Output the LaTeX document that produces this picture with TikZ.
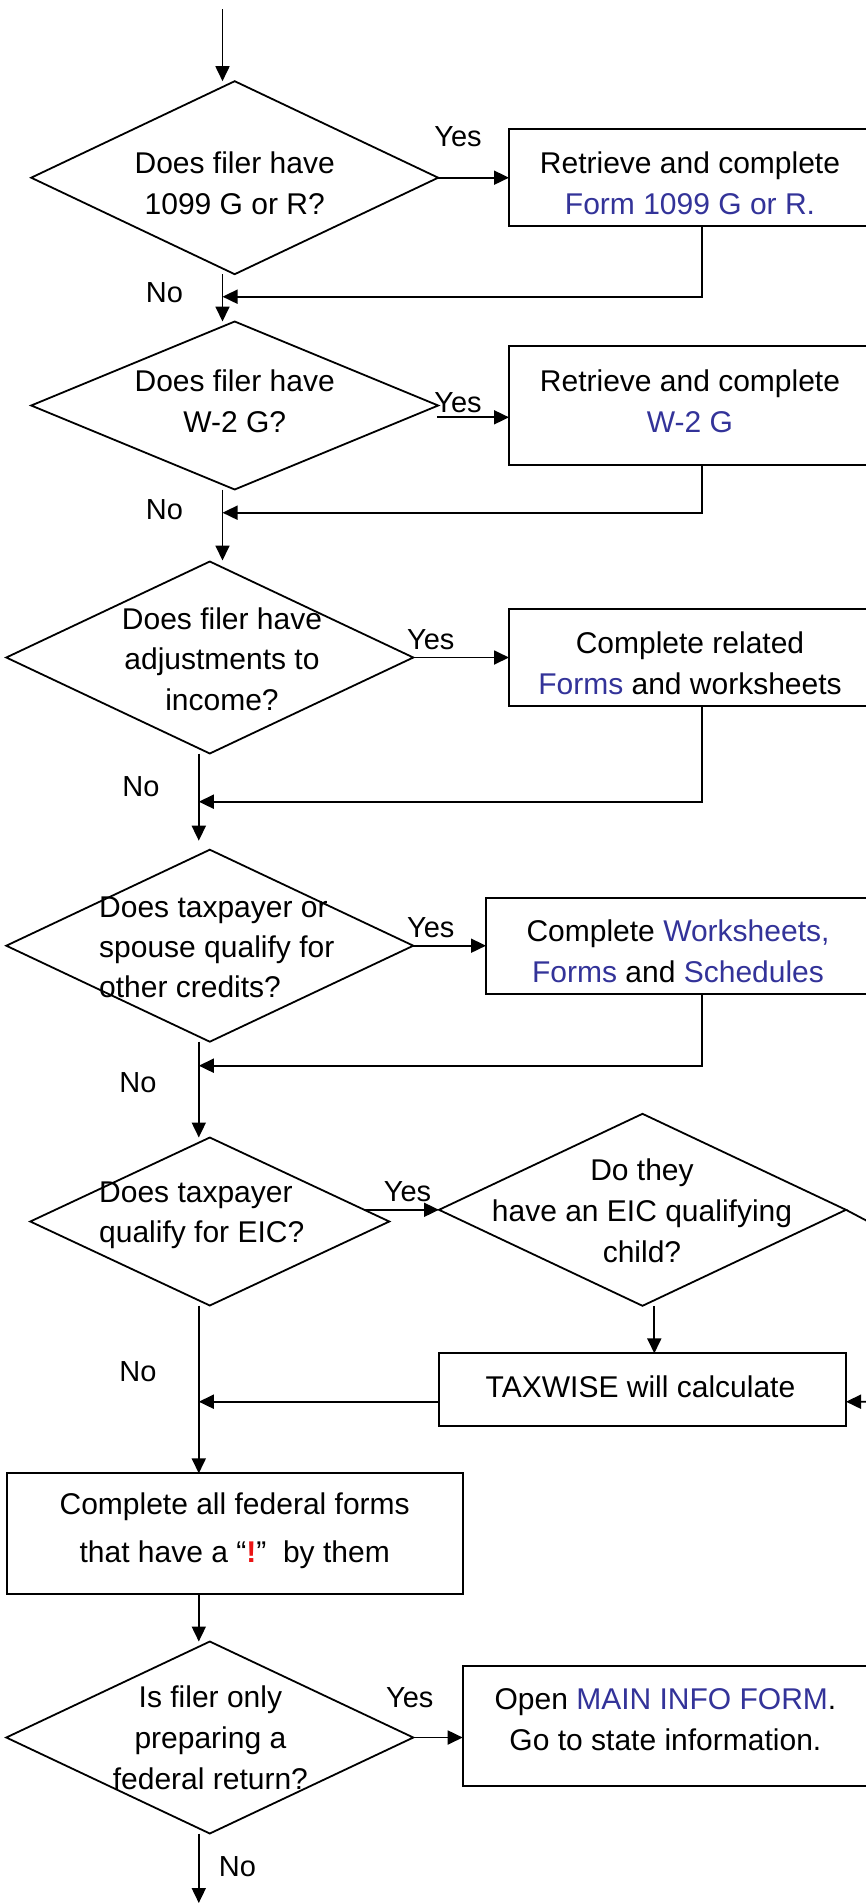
\documentclass[tikz,border=0pt]{standalone}
\usepackage{fontspec}
\setmainfont{Liberation Sans}
\usetikzlibrary{shapes.geometric,arrows.meta}
\definecolor{lnk}{RGB}{51,51,153}
\definecolor{bang}{RGB}{235,20,20}
\begin{document}
\begin{tikzpicture}[x=1pt,y=-1pt,
  line width=1.8pt,
  arr/.style={-{Triangle[length=15pt,width=14pt]}},
  dec/.style={draw,diamond,inner sep=0pt,outer sep=0pt,minimum width=#1},
  box/.style={draw,rectangle,inner sep=0pt,outer sep=0pt},
  txt/.style={font=\fontsize{30}{41}\selectfont,align=center,inner sep=0pt},
  lbl/.style={font=\fontsize{29}{35}\selectfont,inner sep=0pt}]
\useasboundingbox (0,0) rectangle (866,1904);
\clip (0,0) rectangle (866,1904);
\fill[white] (0,0) rectangle (866,1904);

% ---------- diamonds ----------
\node[dec=407pt,minimum height=193pt] (d1) at (234.7,177.7) {};
\node[dec=407pt,minimum height=168pt] (d2) at (234.7,405.5) {};
\node[dec=407pt,minimum height=192pt] (d3) at (209.8,657.5) {};
\node[dec=407pt,minimum height=192pt] (d4) at (209.8,945.7) {};
\node[dec=359pt,minimum height=168pt] (d5) at (209.8,1221.5) {};
\node[dec=407pt,minimum height=192pt] (d6) at (642.5,1209.8) {};
\node[dec=407pt,minimum height=192pt] (d7) at (209.8,1737.5) {};

% ---------- diamond texts ----------
\node[txt] (d1t) at (234.7,183) {Does filer have\\1099 G or R?};
\node[txt] (d2t) at (234.7,401) {Does filer have\\W-2 G?};
\node[txt,font=\fontsize{30}{40.5}\selectfont] (d3t) at (222,659) {Does filer have\\adjustments to\\income?};
\node[txt,align=left,anchor=west,font=\fontsize{30}{40}\selectfont] (d4t) at (98.3,947) {Does taxpayer or\\spouse qualify for\\other credits?};
\node[txt,align=left,anchor=west,font=\fontsize{30}{40}\selectfont] (d5t) at (98.3,1215) {Does taxpayer\\qualify for EIC?};
\node[txt,font=\fontsize{30}{41}\selectfont] (d6t) at (642,1211) {Do they\\have an EIC qualifying\\child?};
\node[txt,font=\fontsize{30}{41}\selectfont] (d7t) at (210.4,1738) {Is filer only\\preparing a\\federal return?};

% ---------- boxes ----------
\node[box,minimum width=363pt,minimum height=96.7pt] (b1) at (690.5,177.7) {};
\node[txt] (b1t) at (690,183) {Retrieve and complete\\\textcolor{lnk}{Form 1099 G or R.}};
\node[box,minimum width=363pt,minimum height=119.3pt] (b2) at (690.5,405.3) {};
\node[txt] (b2t) at (690,401) {Retrieve and complete\\\textcolor{lnk}{W-2 G}};
\node[box,minimum width=363pt,minimum height=96.4pt] (b3) at (690.5,657.5) {};
\node[txt] (b3t) at (690,663) {Complete related\\\textcolor{lnk}{Forms} and worksheets};
\node[box,minimum width=386pt,minimum height=96.3pt] (b4) at (679,945.8) {};
\node[txt] (b4t) at (678,951) {Complete \textcolor{lnk}{Worksheets,}\\\textcolor{lnk}{Forms} and \textcolor{lnk}{Schedules}};
\node[box,minimum width=407pt,minimum height=72.7pt] (tax) at (642.5,1389.7) {};
\node[txt] (taxt) at (640.5,1387) {TAXWISE will calculate};
\node[box,minimum width=456.1pt,minimum height=120.7pt] (fed) at (234.65,1533.7) {};
\node[txt,font=\fontsize{30}{48}\selectfont] (fedt) at (234.7,1531) {Complete all federal forms\\that have a ``\textcolor{bang}{\textbf{!}}''\ \ by them};
\node[box,minimum width=408pt,minimum height=120pt] (b7) at (666.7,1725.7) {};
\node[txt] (b7t) at (665.4,1719.5) {Open \textcolor{lnk}{MAIN INFO FORM}.\\Go to state information.};

% ---------- labels ----------
\node[lbl] (y1) at (458,137) {Yes};
\node[lbl] (y2) at (458,403) {Yes};
\node[lbl] (y3) at (430.7,640) {Yes};
\node[lbl] (y4) at (430.7,928) {Yes};
\node[lbl] (y5) at (407.5,1192) {Yes};
\node[lbl] (y7) at (409.7,1698) {Yes};
\node[lbl] (n1) at (164.5,293) {No};
\node[lbl] (n2) at (164.5,510) {No};
\node[lbl] (n3) at (141,787) {No};
\node[lbl] (n4) at (138,1083) {No};
\node[lbl] (n5) at (138,1372) {No};
\node[lbl] (n7) at (237.4,1867) {No};

% ---------- helper coordinates ----------
\coordinate (s0) at (222.5,9.3);
\coordinate (s1) at (198.8,0);
\coordinate (r1) at (702,296.7);
\coordinate (r2) at (702,512.7);
\coordinate (r3) at (702,801.7);
\coordinate (r4) at (702,1065.7);
\coordinate (ya2) at (437,417.3);
\coordinate (ya5) at (364.4,0);
\coordinate (s6) at (654.3,0);
\coordinate (o1) at (905,1241);
\coordinate (o2) at (905,1401.7);
\coordinate (r5) at (439,1401.7);
\coordinate (e7) at (198.8,1903);

% ---------- connectors ----------
\draw[arr] (s0) -- (s0 |- d1.north);
\draw[arr] (d1.east) -- (b1.west);
\draw[arr] (b1.south -| r1) -- (r1) -- (r1 -| s0);
\draw[arr] (s0 |- d1.south) -- (s0 |- d2.north);
\draw[arr] (ya2) -- (ya2 -| b2.west);
\draw[arr] (b2.south -| r2) -- (r2) -- (r2 -| s0);
\draw[arr,shorten >=1pt] (s0 |- d2.south) -- (s0 |- d3.north);
\draw[arr] (d3.east) -- (b3.west);
\draw[arr] (b3.south -| r3) -- (r3) -- (r3 -| s1);
\draw[arr,shorten >=9pt] (s1 |- d3.south) -- (s1 |- d4.north);
\draw[arr] (d4.east) -- (d4.east -| b4.west);
\draw[arr] (b4.south -| r4) -- (r4) -- (r4 -| s1);
\draw[arr] (s1 |- d4.south) -- (s1 |- d5.north);
\draw[arr] (d6.west -| ya5) -- (d6.west);
\draw[arr] (s6 |- d6.south) -- (s6 |- tax.north);
\draw[arr] (d6.east) -- (o1) -- (o2) -- (o2 -| tax.east);
\draw[arr] (r5 -| tax.west) -- (r5 -| s1);
\draw[arr] (s1 |- d5.south) -- (s1 |- fed.north);
\draw[arr] (s1 |- fed.south) -- (s1 |- d7.north);
\draw[arr] (d7.east) -- (d7.east -| b7.west);
\draw[arr] (s1 |- d7.south) -- (e7);
\end{tikzpicture}
\end{document}
